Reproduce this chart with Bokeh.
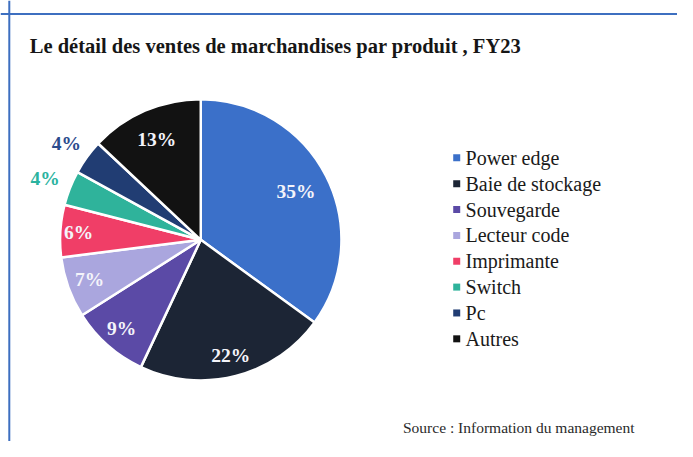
import math
from bokeh.plotting import figure
from bokeh.models import Range1d, Span, ColumnDataSource
from bokeh.core.properties import value
from bokeh.embed import file_html
from bokeh.resources import INLINE

title_text = "Le détail des ventes de marchandises par produit , FY23"
source_text = "Source : Information du management"
categories = ["Power edge", "Baie de stockage", "Souvegarde", "Lecteur code",
              "Imprimante", "Switch", "Pc", "Autres"]
shares = [35, 22, 9, 7, 6, 4, 4, 13]
colors = ["#3b70c9", "#1c2535", "#5b4aa6", "#aaa6de", "#f03e67", "#2fb39b", "#213d73", "#121212"]
label_colors = ["#f4f4fa", "#f4f4fa", "#f4f4fa", "#f4f4fa", "#f4f4fa", "#2bb39f", "#2b4b8c", "#f4f4fa"]
label_radius = [0.76, 0.86, 0.85, 0.84, 0.87, 1.19, 1.18, 0.79]

REF_W, REF_H = 693, 457
W, H = 677, 441
p = figure(width=W, height=H, output_backend="svg", toolbar_location=None,
           x_range=Range1d(0, REF_W), y_range=Range1d(0, REF_H),
           min_border=0)
p.axis.visible = False
p.grid.visible = False
p.outline_line_color = None
p.background_fill_color = "white"
p.border_fill_color = "white"

SERIF = value("Liberation Serif")

# frame border lines (reference coords: y_data = 457 - y_page)
p.add_layout(Span(location=REF_H - 14, dimension="width", line_color="#3d6fc0", line_width=2))
p.add_layout(Span(location=9, dimension="height", line_color="#3d6fc0", line_width=2))

cx, cy, r = 205, REF_H - 248, 144
total = sum(shares)
starts, ends, lx, ly, labels = [], [], [], [], []
cum = 0
for i, s in enumerate(shares):
    a0 = math.pi / 2 - cum / total * 2 * math.pi
    a1 = math.pi / 2 - (cum + s) / total * 2 * math.pi
    starts.append(a0)
    ends.append(a1)
    mid = (a0 + a1) / 2
    lx.append(cx + r * label_radius[i] * math.cos(mid))
    ly.append(cy + r * label_radius[i] * math.sin(mid))
    labels.append(f"{s}%")
    cum += s

src = ColumnDataSource(dict(start=starts, end=ends, color=colors, lx=lx, ly=ly,
                            label=labels, lcolor=label_colors))
p.wedge(x=cx, y=cy, radius=r, start_angle="start", end_angle="end", direction="clock",
        fill_color="color", line_color="white", line_width=2.5, source=src)
p.text(x="lx", y="ly", text="label", text_color="lcolor", source=src,
       text_font=SERIF, text_font_style="bold", text_font_size="19.5px",
       text_align="center", text_baseline="middle")

# title
p.text(x=[30], y=[REF_H - 47], text=[title_text], text_font=SERIF,
       text_font_style="bold", text_font_size="20.5px", text_color="#161616",
       text_align="left", text_baseline="middle")

# legend
leg_y = [REF_H - (163 + i * 26.8) for i in range(len(categories))]
p.scatter(x=[467] * len(categories), y=leg_y, marker="square", size=7,
          fill_color=colors, line_color=None)
p.text(x=[476] * len(categories), y=leg_y, text=categories, text_font=SERIF,
       text_font_style="normal", text_font_size="20px", text_color="#1a1a1a",
       text_align="left", text_baseline="middle")

# source
p.text(x=[412], y=[REF_H - 442], text=[source_text], text_font=SERIF,
       text_font_size="15.5px", text_color="#2a2a2a", text_align="left", text_baseline="middle")

open("out.html", "w").write(file_html(p, INLINE))
